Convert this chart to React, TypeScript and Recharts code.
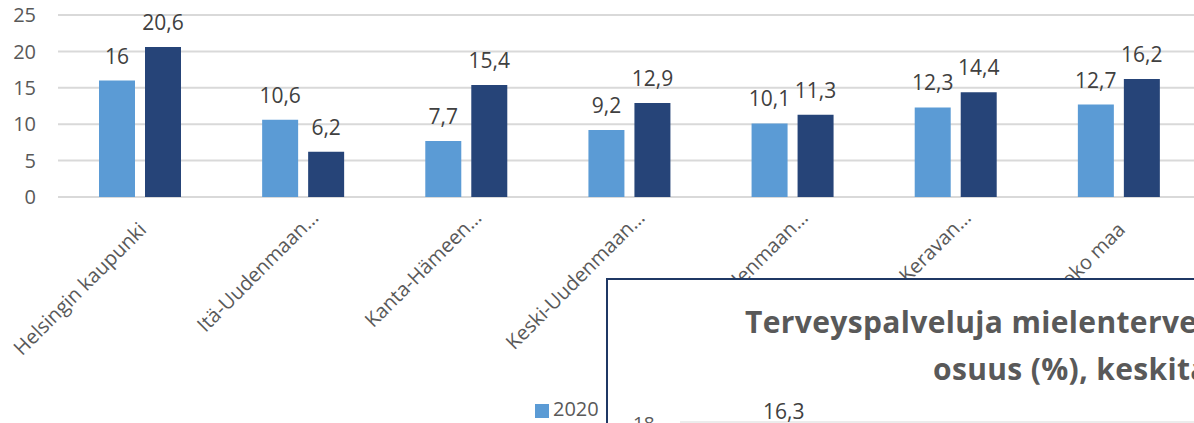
import React from 'react';
import { BarChart, Bar, XAxis, YAxis, CartesianGrid, Legend, LabelList } from 'recharts';

// alueet (osa nimistä katkaistu kuten alkuperäisessä)
const categories = [
  'Helsingin kaupunki',
  'Itä-Uudenmaan…',
  'Kanta-Hämeen…',
  'Keski-Uudenmaan…',
  'Länsi-Uudenmaan…',
  'Vantaan ja Keravan…',
  'Koko maa',
];
const values2020 = [16, 10.6, 7.7, 9.2, 10.1, 12.3, 12.7];
const values2021 = [20.6, 6.2, 15.4, 12.9, 11.3, 14.4, 16.2];
const yTicks = [0, 5, 10, 15, 20, 25];

// päällä oleva toinen kaavio, siitä näkyy vain otsikko ja pari lukua
const overlayTitle = ['Terveyspalveluja mielenterveysongelmien vuoksi', 'osuus (%), keskitason'];
const overlayTick = '18';
const overlayLabel = '16,3';

const LIGHT = '#5b9bd5';
const DARK = '#264478';
const GRID = '#d9d9d9';
const TEXT = '#595959';
const LABEL = '#404040';
const FONT = "'Open Sans', sans-serif";

const fmt = (v: any) => String(v).replace('.', ',');

function CategoryTick({ x, y, payload }: any) {
  // katkaistut nimet (…) näyttävät alkuperäisessä olevan hieman pidemmällä
  const cut = String(payload.value).endsWith('…');
  const dx = cut ? 17 : 8;
  const dy = cut ? 22 : 34;
  return (
    <g transform={`translate(${x + dx},${y + dy})`}>
      <text textAnchor="end" transform="rotate(-45)" fill={TEXT} fontSize={20} fontFamily={FONT}>
        {payload.value}
      </text>
    </g>
  );
}

export default function App() {
  const data = categories.map((name, i) => ({
    name,
    y2020: values2020[i],
    y2021: values2021[i],
  }));

  return (
    <div
      style={{
        position: 'fixed',
        left: 0,
        top: 0,
        width: 1194,
        height: 423,
        overflow: 'hidden',
        background: '#fff',
        fontFamily: FONT,
      }}
    >
      <BarChart
        width={1210}
        height={423}
        data={data}
        margin={{ top: 15, right: 10, left: 8, bottom: 0 }}
        barSize={36}
        barGap={10}
        style={{ fontFamily: FONT }}
      >
        <CartesianGrid vertical={false} stroke={GRID} strokeWidth={2} />
        <XAxis
          dataKey="name"
          interval={0}
          height={199}
          axisLine={false}
          tickLine={false}
          tickSize={0}
          tickMargin={0}
          tick={<CategoryTick />}
        />
        <YAxis
          width={50}
          domain={[0, 25]}
          ticks={yTicks}
          axisLine={false}
          tickLine={false}
          tickSize={0}
          tickMargin={22}
          tick={{ fill: TEXT, fontSize: 20, fontFamily: FONT }}
        />
        <Legend
          iconType="square"
          iconSize={14}
          wrapperStyle={{ position: 'absolute', left: 535, top: 395, width: 'auto', fontSize: 20 }}
          formatter={(value: any) => <span style={{ color: TEXT }}>{value}</span>}
        />
        <Bar dataKey="y2020" name="2020" fill={LIGHT} isAnimationActive={false}>
          <LabelList dataKey="y2020" position="top" offset={17} fill={LABEL} fontSize={21} formatter={fmt} />
        </Bar>
        <Bar dataKey="y2021" name="2021" fill={DARK} isAnimationActive={false}>
          <LabelList dataKey="y2021" position="top" offset={17} fill={LABEL} fontSize={21} formatter={fmt} />
        </Bar>
      </BarChart>

      {/* toisen kaavion reunus ja näkyvät tekstit */}
      <svg
        width={1194}
        height={423}
        style={{ position: 'absolute', left: 0, top: 0, pointerEvents: 'none' }}
      >
        <rect x={607} y={279} width={700} height={300} fill="#fff" stroke="#1f3864" strokeWidth={2} />
        <text x={745} y={333} fill={TEXT} fontSize={30} fontWeight={700} fontFamily={FONT} letterSpacing={0.35}>
          {overlayTitle[0]}
        </text>
        <text x={933} y={380} fill={TEXT} fontSize={30} fontWeight={700} fontFamily={FONT} letterSpacing={0.35}>
          {overlayTitle[1]}
        </text>
        <line x1={680} y1={422} x2={1194} y2={422} stroke={GRID} strokeWidth={1} />
        <text x={633} y={430} fill={TEXT} fontSize={19} fontFamily={FONT}>
          {overlayTick}
        </text>
        <text x={763} y={419} fill={LABEL} fontSize={21} fontFamily={FONT}>
          {overlayLabel}
        </text>
      </svg>
    </div>
  );
}
